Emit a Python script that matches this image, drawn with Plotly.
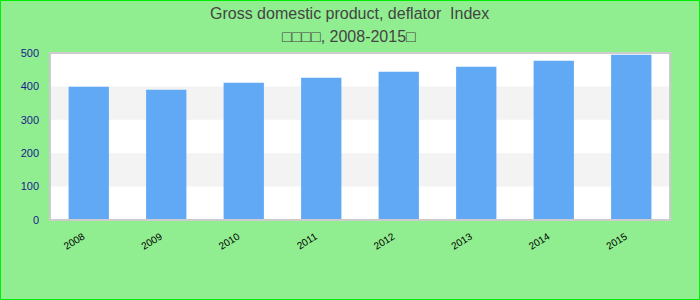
import plotly.graph_objects as go

years = ["2008", "2009", "2010", "2011", "2012", "2013", "2014", "2015"]
values = [399, 390, 411, 426, 444, 459, 477, 495]
y_ticks = [0, 100, 200, 300, 400, 500]
title_line1 = "Gross domestic product, deflator  Index"
title_line2 = "□□□□, 2008-2015□"

PLOT_H = 300 - 53 - 80

fig = go.Figure()
fig.add_trace(go.Bar(x=years, y=values, marker=dict(color="#62a9f5", line=dict(width=0)),
                     hoverinfo="x+y"))

shapes = []
# alternating bands (between 100-200, 300-400)
for i in range(1, len(y_ticks) - 1, 2):
    shapes.append(dict(type="rect", xref="paper", yref="y", x0=0, x1=1,
                       y0=y_ticks[i], y1=y_ticks[i + 1], fillcolor="#f3f3f3",
                       line=dict(width=0), layer="below"))
# plot frame
shapes.append(dict(type="rect", xref="paper", yref="paper", x0=0, x1=1, y0=0, y1=1,
                   line=dict(color="#cccccc", width=2), layer="above"))
# outer border
shapes.append(dict(type="rect", xref="paper", yref="paper", x0=-50/620, x1=1+30/620,
                   y0=-80/PLOT_H, y1=1+53/PLOT_H, line=dict(color="#00ee00", width=2),
                   layer="above"))

annotations = [
    dict(text=title_line1, xref="paper", yref="paper", x=(349-50)/620, y=(220-13)/PLOT_H,
         xanchor="center", yanchor="middle", showarrow=False,
         font=dict(size=16, color="#444444")),
    dict(text=title_line2, xref="paper", yref="paper", x=(349-50)/620, y=(220-37)/PLOT_H,
         xanchor="center", yanchor="middle", showarrow=False,
         font=dict(size=16, color="#444444")),
]

fig.update_layout(
    width=700, height=300,
    margin=dict(l=50, r=30, t=53, b=80),
    paper_bgcolor="#90ee90",
    plot_bgcolor="#ffffff",
    font=dict(family="Liberation Sans, Arial, sans-serif"),
    bargap=0.48,
    showlegend=False,
    shapes=shapes,
    annotations=annotations,
    xaxis=dict(tickangle=-32, tickfont=dict(size=10, color="#000000"),
               showgrid=False, zeroline=False, showline=False,
               ticks="", ticklabelstandoff=8, ticklabelshift=-6),
    yaxis=dict(range=[0, 500], tickvals=y_ticks, tickfont=dict(size=11, color="#1a1a8c"),
               showgrid=False, zeroline=False, showline=False,
               ticks="", ticklabelstandoff=10),
)

fig.write_html("out.html")
